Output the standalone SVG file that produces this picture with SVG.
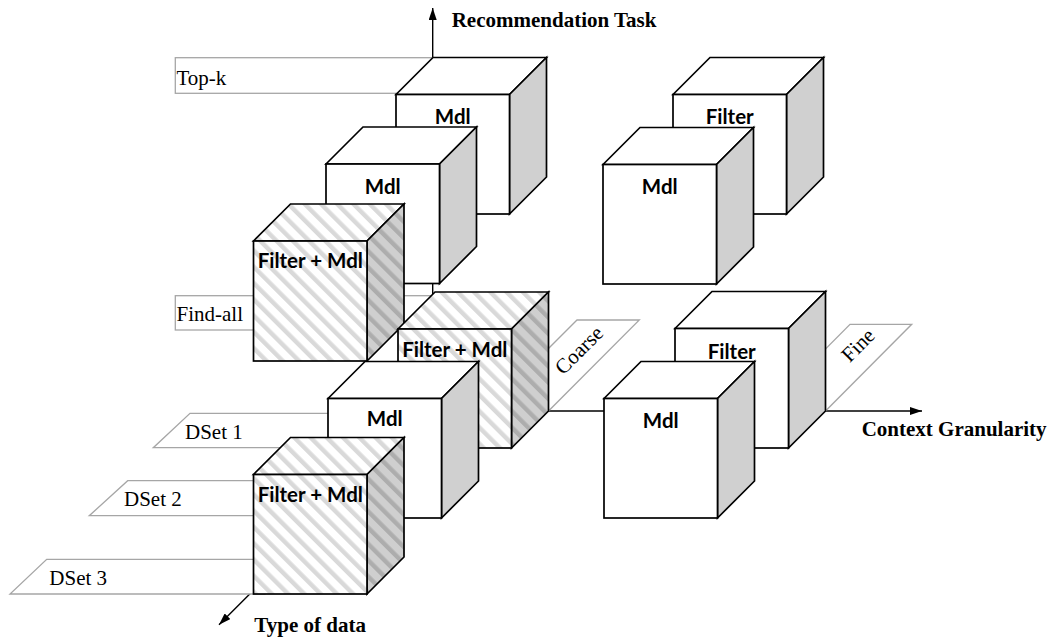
<svg xmlns="http://www.w3.org/2000/svg" width="1053" height="639" viewBox="0 0 1053 639">
<style>
.bg{fill:#fff}
.panel{fill:#fff;stroke:#a6a6a6;stroke-width:1.3}
.axis{fill:none;stroke:#000;stroke-width:1.4}
.cf{fill:#fff;stroke:#000;stroke-width:1.7;stroke-linejoin:miter}
.cs{fill:#d0d0d0;stroke:#000;stroke-width:1.7;stroke-linejoin:miter}
.hf{fill:url(#hatchL);stroke:#000;stroke-width:1.7}
.hs{fill:url(#hatchD);stroke:#000;stroke-width:1.7}
.lbl{font-family:'Liberation Serif','Times New Roman',serif;font-size:21px;fill:#000}
.ax{font-family:'Liberation Serif','Times New Roman',serif;font-size:21px;font-weight:bold;fill:#000}
.cl{font-family:Lato,'Liberation Sans',sans-serif;font-size:20.5px;font-weight:bold;fill:#000;text-anchor:middle}
</style>
<defs>
<pattern id="hatchL" patternUnits="userSpaceOnUse" width="11.5" height="11.5" patternTransform="rotate(-45)">
<rect width="11.5" height="11.5" fill="#fff"/><rect width="4.4" height="11.5" fill="#d9d9d9"/>
</pattern>
<pattern id="hatchD" patternUnits="userSpaceOnUse" width="11.5" height="11.5" patternTransform="rotate(-45)">
<rect width="11.5" height="11.5" fill="#cfcfcf"/><rect width="4.4" height="11.5" fill="#adadad"/>
</pattern>
<marker id="arr" viewBox="0 0 12 8" refX="12" refY="4" markerWidth="12" markerHeight="8" markerUnits="userSpaceOnUse" orient="auto">
<path d="M0,0 L12,4 L0,8 z" fill="#000"/>
</marker>
</defs>
<rect class="bg" width="1053" height="639"/>

<g id="connectors">
<line class="axis" x1="432.7" y1="411" x2="432.7" y2="8" marker-end="url(#arr)"/>
<line class="axis" x1="432.7" y1="411" x2="922" y2="411" marker-end="url(#arr)"/>
<line class="axis" x1="432.7" y1="411" x2="219" y2="624.7" marker-end="url(#arr)"/>
</g>

<g id="axis-labels">
<text class="ax" x="451.7" y="26.7">Recommendation Task</text>
<text class="ax" x="861.7" y="435.5">Context Granularity</text>
<text class="ax" x="254.3" y="632.3">Type of data</text>
</g>

<g id="label-topk">
<rect class="panel" x="175.3" y="57.7" width="257.4" height="35.6"/>
<text class="lbl" x="176.5" y="85">Top-k</text>
</g>
<g id="label-findall">
<rect class="panel" x="175.3" y="295.7" width="257.4" height="34.3"/>
<text class="lbl" x="176.5" y="320.7">Find-all</text>
</g>
<g id="label-coarse">
<polygon class="panel" points="577,320 639.3,320 548.5,411 486,411"/>
<text class="lbl" x="584" y="355" text-anchor="middle" transform="rotate(-45 584 355)">Coarse</text>
</g>
<g id="label-fine">
<polygon class="panel" points="850,324.3 911.7,324.3 825.5,411 763.8,411"/>
<text class="lbl" x="863" y="350" text-anchor="middle" transform="rotate(-45 863 350)">Fine</text>
</g>
<g id="label-dset1">
<polygon class="panel" points="190,413.3 420,413.3 385.6,447.7 153.3,447.7"/>
<text class="lbl" x="185" y="439.3">DSet 1</text>
</g>
<g id="label-dset2">
<polygon class="panel" points="127.7,480.7 300,480.7 265,515.7 89.3,515.7"/>
<text class="lbl" x="124" y="506">DSet 2</text>
</g>
<g id="label-dset3">
<polygon class="panel" points="46.7,559.3 300,559.3 265,594 10,594"/>
<text class="lbl" x="49.3" y="585">DSet 3</text>
</g>

<g id="cube-A">
<polygon class="cf" points="396,94.5 433,57.5 546.5,57.5 509.5,94.5"/>
<polygon class="cs" points="509.5,94.5 546.5,57.5 546.5,177 509.5,214"/>
<rect class="cf" x="396" y="94.5" width="113.5" height="119.5"/>
<text class="cl" x="452.75" y="123.5">Mdl</text>
</g>
<g id="cube-G">
<polygon class="cf" points="673,94.5 710,57.5 823.5,57.5 786.5,94.5"/>
<polygon class="cs" points="786.5,94.5 823.5,57.5 823.5,177 786.5,214"/>
<rect class="cf" x="673" y="94.5" width="113.5" height="119.5"/>
<text class="cl" x="729.75" y="124">Filter</text>
</g>
<g id="cube-B">
<polygon class="cf" points="326,164 363,127 476.5,127 439.5,164"/>
<polygon class="cs" points="439.5,164 476.5,127 476.5,246.5 439.5,283.5"/>
<rect class="cf" x="326" y="164" width="113.5" height="119.5"/>
<text class="cl" x="382.75" y="193.5">Mdl</text>
</g>
<g id="cube-H">
<polygon class="cf" points="603,164.5 640,127.5 753.5,127.5 716.5,164.5"/>
<polygon class="cs" points="716.5,164.5 753.5,127.5 753.5,247 716.5,284"/>
<rect class="cf" x="603" y="164.5" width="113.5" height="119.5"/>
<text class="cl" x="659.75" y="194">Mdl</text>
</g>
<g id="cube-C">
<polygon class="hf" points="253.5,241 290.5,204 404,204 367,241"/>
<polygon class="hs" points="367,241 404,204 404,324 367,361"/>
<rect class="hf" x="253.5" y="241" width="113.5" height="120"/>
<text class="cl" x="310.25" y="268">Filter + Mdl</text>
</g>
<g id="cube-D">
<polygon class="hf" points="398,329 435,292 548.5,292 511.5,329"/>
<polygon class="hs" points="511.5,329 548.5,292 548.5,411 511.5,448"/>
<rect class="hf" x="398" y="329" width="113.5" height="119"/>
<text class="cl" x="454.75" y="356.5">Filter + Mdl</text>
</g>
<g id="cube-I">
<polygon class="cf" points="675,328.5 712,291.5 825.5,291.5 788.5,328.5"/>
<polygon class="cs" points="788.5,328.5 825.5,291.5 825.5,411 788.5,448"/>
<rect class="cf" x="675" y="328.5" width="113.5" height="119.5"/>
<text class="cl" x="731.75" y="358.5">Filter</text>
</g>
<g id="cube-E">
<polygon class="cf" points="328,398.5 365,361.5 478.5,361.5 441.5,398.5"/>
<polygon class="cs" points="441.5,398.5 478.5,361.5 478.5,481 441.5,518"/>
<rect class="cf" x="328" y="398.5" width="113.5" height="119.5"/>
<text class="cl" x="384.75" y="426">Mdl</text>
</g>
<g id="cube-J">
<polygon class="cf" points="604,398.5 641,361.5 754.5,361.5 717.5,398.5"/>
<polygon class="cs" points="717.5,398.5 754.5,361.5 754.5,481 717.5,518"/>
<rect class="cf" x="604" y="398.5" width="113.5" height="119.5"/>
<text class="cl" x="660.75" y="428">Mdl</text>
</g>
<g id="cube-F">
<polygon class="hf" points="253.5,474.5 290.5,437.5 404,437.5 367,474.5"/>
<polygon class="hs" points="367,474.5 404,437.5 404,557 367,594"/>
<rect class="hf" x="253.5" y="474.5" width="113.5" height="119.5"/>
<text class="cl" x="310.25" y="502">Filter + Mdl</text>
</g>
</svg>
